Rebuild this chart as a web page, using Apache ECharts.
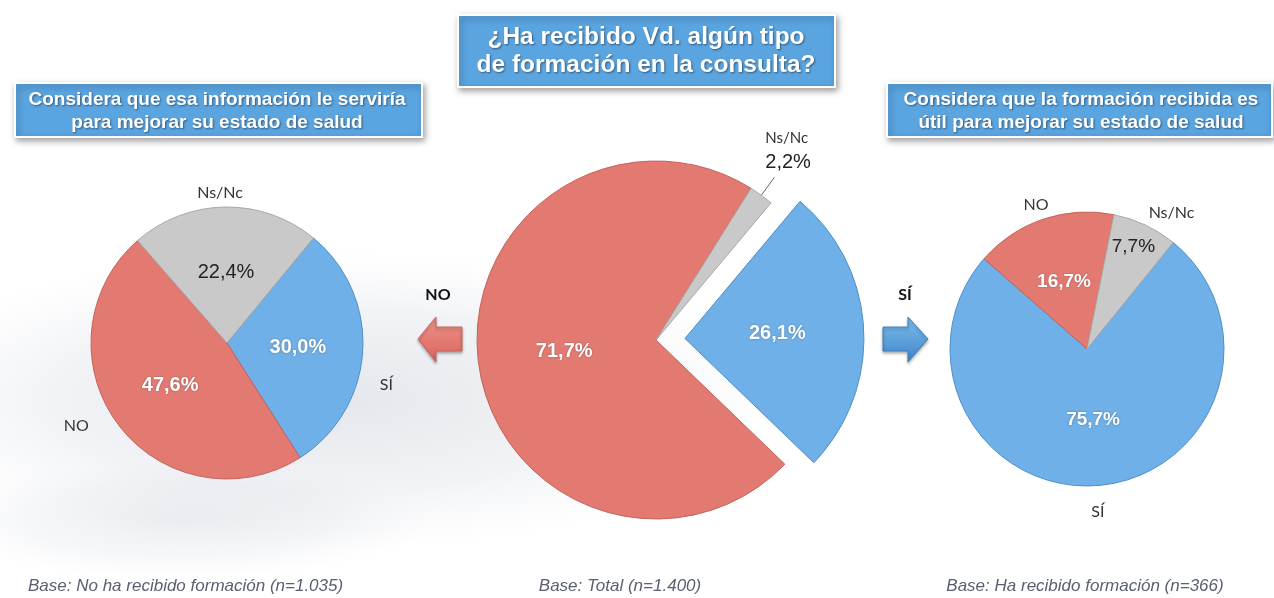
<!DOCTYPE html>
<html>
<head>
<meta charset="utf-8">
<script src="https://cdn.jsdelivr.net/npm/echarts@6/dist/echarts.min.js"></script>
<style>
html,body{margin:0;padding:0;background:#fff;}
#chart{width:1274px;height:598px;}
</style>
</head>
<body>
<div id="chart"></div>
<script>
// ---- Data ----
const sliceNames = ['SÍ', 'NO', 'Ns/Nc'];
const leftValues = [30.0, 47.6, 22.4];   // No ha recibido formación
const midValues = [26.1, 71.7, 2.2];     // Total
const rightValues = [75.7, 16.7, 7.7];   // Ha recibido formación

const titleMain = '¿Ha recibido Vd. algún tipo\nde formación en la consulta?';
const titleLeft = 'Considera que esa información le serviría\npara mejorar su estado de salud';
const titleRight = 'Considera que la formación recibida es\nútil para mejorar su estado de salud';
const baseLeft = 'Base: No ha recibido formación (n=1.035)';
const baseMid = 'Base: Total (n=1.400)';
const baseRight = 'Base: Ha recibido formación (n=366)';
const arrowLeftText = 'NO';
const arrowRightText = 'SÍ';

// ---- Styles ----
const RED = '#E37A72', BLUE = '#6FB0E8', GRAY = '#C9C9C9';
const RED_B = '#C4625B', BLUE_B = '#4F8FC8', GRAY_B = '#A8A8A8';
const colors = [BLUE, RED, GRAY];
const borders = [BLUE_B, RED_B, GRAY_B];
const fmt = v => v.toFixed(1).replace('.', ',') + '%';

function items(values, opts) {
  return values.map((v, i) => Object.assign({
    name: sliceNames[i], value: v,
    itemStyle: { color: colors[i], borderColor: borders[i], borderWidth: 1 }
  }, opts ? opts(i) : {}));
}

const pctLabel = (i, size) => ({
  label: {
    color: i === 2 ? '#222' : '#fff',
    fontWeight: i === 2 ? 'normal' : 'bold',
    fontFamily: '"Liberation Sans", Arial, sans-serif',
    fontSize: size,
    textShadowColor: i === 2 ? 'transparent' : 'rgba(0,0,0,0.35)',
    textShadowBlur: 2
  }
});

const nameLabelStyle = {
  show: true, position: 'outside', formatter: '{b}',
  fontFamily: 'Lato, "Open Sans", sans-serif', fontSize: 16, color: '#333'
};

const boxStyle = { fill: '#5AA4E0', stroke: '#fff', lineWidth: 2, shadowBlur: 6,
  shadowColor: 'rgba(0,0,0,0.35)', shadowOffsetX: 2, shadowOffsetY: 3 };
const titleText = (text, x, y, size, lh) => ({ type: 'text', style: { text, x, y,
  textAlign: 'center', textVerticalAlign: 'middle',
  font: 'bold ' + size + 'px "Liberation Sans", Arial, sans-serif', fill: '#fff', lineHeight: lh,
  textShadowColor: 'rgba(0,0,0,0.45)', textShadowBlur: 2, textShadowOffsetX: 1, textShadowOffsetY: 1 } });
const baseText = (text, x, align) => ({ type: 'text', style: { text, x, y: 586, textAlign: align,
  textVerticalAlign: 'middle', font: 'italic 17px "Liberation Sans", Arial, sans-serif', fill: '#5a6070' } });
// soft decorative background glow (circle stretched into an ellipse)
const glow = (cx, cy, sx, sy, a) => ({ type: 'circle', silent: true, x: cx, y: cy, scaleX: sx, scaleY: sy,
  shape: { cx: 0, cy: 0, r: 100 },
  style: { fill: new echarts.graphic.RadialGradient(0.5, 0.5, 0.5, [
    { offset: 0, color: 'rgba(200,206,216,' + a + ')' },
    { offset: 0.6, color: 'rgba(210,215,224,' + (a * 0.6) + ')' },
    { offset: 1, color: 'rgba(225,229,236,0)' }]) } });

const chart = echarts.init(document.getElementById('chart'));

const option = {
  backgroundColor: '#fff',
  animation: false,
  graphic: [
    glow(330, 400, 4.6, 1.5, 0.5),
    glow(180, 520, 2.5, 0.6, 0.35),
    { type: 'rect', shape: { x: 458, y: 15, width: 377, height: 72 }, style: boxStyle },
    titleText(titleMain, 646, 51, 24.5, 28),
    { type: 'rect', shape: { x: 15, y: 83, width: 407, height: 54 }, style: boxStyle },
    titleText(titleLeft, 217, 111, 19, 23),
    { type: 'rect', shape: { x: 887, y: 83, width: 385, height: 54 }, style: boxStyle },
    titleText(titleRight, 1081, 111, 19, 23),
    // arrows
    { type: 'polygon', shape: { points: [[418,339],[436,317],[436,327],[462,327],[462,351],[436,351],[436,362]] },
      style: { fill: new echarts.graphic.LinearGradient(0,0,0,1,[{offset:0,color:'#F0948C'},{offset:1,color:'#D8625A'}]), stroke: '#C9665F', lineWidth: 1, shadowBlur: 3, shadowColor: 'rgba(0,0,0,0.3)', shadowOffsetY: 2 } },
    { type: 'text', style: { text: arrowLeftText, x: 438, y: 295, textAlign: 'center', textVerticalAlign: 'middle',
      font: 'bold 16px Lato, "Liberation Sans", sans-serif', fill: '#111' } },
    { type: 'polygon', shape: { points: [[928,339],[908,317],[908,327],[883,327],[883,351],[908,351],[908,362]] },
      style: { fill: new echarts.graphic.LinearGradient(0,0,0,1,[{offset:0,color:'#7DBDEE'},{offset:1,color:'#3F86C8'}]), stroke: '#3F80BE', lineWidth: 1, shadowBlur: 3, shadowColor: 'rgba(0,0,0,0.3)', shadowOffsetY: 2 } },
    { type: 'text', style: { text: arrowRightText, x: 905, y: 295, textAlign: 'center', textVerticalAlign: 'middle',
      font: 'bold 16px Lato, "Liberation Sans", sans-serif', fill: '#111' } },
    baseText(baseLeft, 28, 'left'),
    baseText(baseMid, 620, 'center'),
    baseText(baseRight, 1085, 'center')
  ],
  series: [
    // LEFT pie: percentages inside
    { type: 'pie', center: [227, 343], radius: 136, startAngle: 50.5, clockwise: true,
      label: { show: true, position: 'inner', formatter: p => fmt(p.value) },
      labelLine: { show: false }, emphasis: { disabled: true },
      data: items(leftValues, i => pctLabel(i, 20)) },
    // LEFT pie: names outside
    { type: 'pie', center: [227, 343], radius: 136, startAngle: 50.5, silent: true,
      itemStyle: { color: 'transparent', borderWidth: 0 },
      label: nameLabelStyle, labelLine: { show: false, length: 8, length2: 6 },
      labelLayout: p => [{ dx: -2, dy: 33 }, { dx: -12, dy: -3 }, { dx: 29, dy: -6 }][p.dataIndex],
      data: leftValues.map((v, i) => ({ name: sliceNames[i], value: v })) },
    // MIDDLE pie
    { type: 'pie', center: [656, 340], radius: 179, startAngle: 50, clockwise: true,
      selectedMode: 'single', selectedOffset: 29, emphasis: { disabled: true },
      label: { show: true, position: 'inner', formatter: p => fmt(p.value) },
      labelLine: { show: false },
      labelLayout: p => (p.dataIndex === 2 ? { dx: -14, dy: -27 } : {}),
      data: items(midValues, i => {
        if (i === 0) return Object.assign({ selected: true }, pctLabel(i, 20));
        if (i === 2) return {
          label: { position: 'outside', formatter: p => '{n|' + p.name + '}\n{v|' + fmt(p.value) + '}',
            align: 'left',
            rich: { n: { fontFamily: 'Lato, sans-serif', fontSize: 15, color: '#333', lineHeight: 24 },
                    v: { fontFamily: '"Liberation Sans", Arial, sans-serif', fontSize: 20, color: '#222', lineHeight: 24 } } },
          labelLine: { show: true, length: 22, length2: 0, lineStyle: { color: '#666', width: 1 } }
        };
        return pctLabel(i, 20);
      }) },
    // RIGHT pie: percentages inside
    { type: 'pie', center: [1087, 349], radius: 137, startAngle: 51, clockwise: true,
      label: { show: true, position: 'inner', formatter: p => fmt(p.value) },
      labelLine: { show: false }, emphasis: { disabled: true },
      labelLayout: p => (p.dataIndex === 2 ? { dx: 16, dy: -38 } : {}),
      data: items(rightValues, i => pctLabel(i, 19)) },
    // RIGHT pie: names outside
    { type: 'pie', center: [1087, 349], radius: 137, startAngle: 51, silent: true,
      itemStyle: { color: 'transparent', borderWidth: 0 },
      label: nameLabelStyle, labelLine: { show: false, length: 8, length2: 6 },
      labelLayout: p => [{ dx: -19, dy: 18 }, { dx: 19, dy: -7 }, { dx: -11, dy: -5 }][p.dataIndex],
      data: rightValues.map((v, i) => ({ name: sliceNames[i], value: v })) }
  ]
};
chart.setOption(option);
</script>
</body>
</html>
